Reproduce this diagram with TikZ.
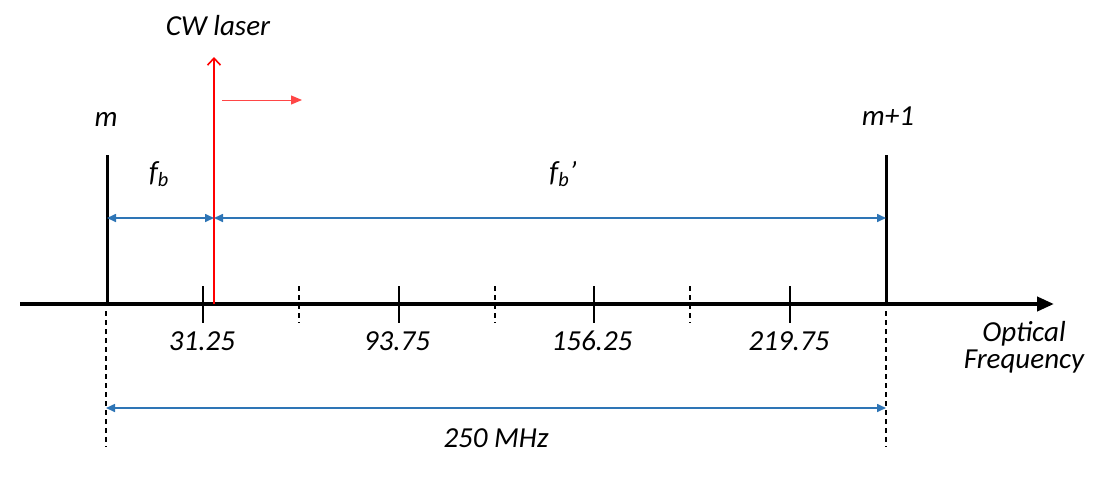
\documentclass[tikz,border=0pt]{standalone}
\usepackage{fontspec}
\setmainfont{Carlito}
\usetikzlibrary{arrows.meta}
\definecolor{ablue}{RGB}{46,117,182}
\definecolor{lred}{RGB}{255,70,70}
\tikzset{
  lbl/.style={font=\fontsize{29}{27}\selectfont\itshape, inner sep=0pt, anchor=base},
  dimarrow/.style={draw=ablue, line width=1.6pt, {Triangle[length=9pt,width=8pt]}-{Triangle[length=9pt,width=8pt]}},
  solidtick/.style={line width=1.8pt},
  dashtick/.style={line width=1.6pt, dash pattern=on 5pt off 4pt},
  guide/.style={line width=1.4pt, dash pattern=on 5pt off 4pt},
  combline/.style={line width=3pt},
}
\begin{document}
\begin{tikzpicture}[x=1pt,y=-1pt]
\useasboundingbox (0,0) rectangle (1105,485);
% coordinates
\coordinate (axL) at (20,304);
\coordinate (axR) at (1054,304);
\coordinate (mB) at (107,304);
\coordinate (mT) at (107,155);
\coordinate (m1B) at (886,304);
\coordinate (m1T) at (886,155);
\coordinate (cwB) at (214,304);
\coordinate (cwT) at (214,57);
\coordinate (fa) at (107,218);
\coordinate (fm) at (214,218);
\coordinate (fz) at (886,218);
\coordinate (gLt) at (106,311);
\coordinate (gLb) at (106,447);
\coordinate (gRt) at (886,311);
\coordinate (gRb) at (886,447);
\coordinate (bL) at (106,408);
\coordinate (bR) at (886,408);
\coordinate (sA) at (222,100);
\coordinate (sB) at (302,100);
% axis
\draw[line width=4pt, -{Triangle[length=17pt,width=14pt]}] (axL) -- (axR);
% comb lines
\draw[combline] (mB) -- (mT);
\draw[combline] (m1B) -- (m1T);
% ticks
\foreach \x/\n in {203/a,399/b,594/c,790/d}{
  \coordinate (t\n1) at (\x,286);
  \coordinate (t\n2) at (\x,323);
  \draw[solidtick] (t\n1) -- (t\n2);
}
\foreach \x/\n in {299/a,495/b,690/c}{
  \coordinate (d\n1) at (\x,286);
  \coordinate (d\n2) at (\x,323);
  \draw[dashtick] (d\n1) -- (d\n2);
}
% CW laser
\draw[red, line width=2.2pt, -{Straight Barb[length=7pt,width=13pt,line width=1.6pt]}] (cwB) -- (cwT);
\draw[lred, line width=1pt, -{Triangle[length=11pt,width=9pt]}] (sA) -- (sB);
% dimension arrows
\draw[dimarrow] (fa) -- (fm);
\draw[dimarrow] (fm) -- (fz);
\draw[guide] (gLt) -- (gLb);
\draw[guide] (gRt) -- (gRb);
\draw[dimarrow] (bL) -- (bR);
% labels
\node[lbl] (cw) at (218,35) {CW laser};
\node[lbl] (m) at (106,126) {m};
\node[lbl] (m1) at (888,125) {m+1};
\node[lbl] (fb) at (159,181) {f\textsubscript{b}};
\node[lbl] (fbp) at (563,181) {f\textsubscript{b}’};
\node[lbl] (n1) at (202,350) {31.25};
\node[lbl] (n2) at (397,350) {93.75};
\node[lbl] (n3) at (592,350) {156.25};
\node[lbl] (n4) at (789,350) {219.75};
\node[lbl, anchor=center, align=center] (of) at (1024,347) {Optical\\Frequency};
\node[lbl] (mhz) at (496,447) {250 MHz};
\end{tikzpicture}
\end{document}
